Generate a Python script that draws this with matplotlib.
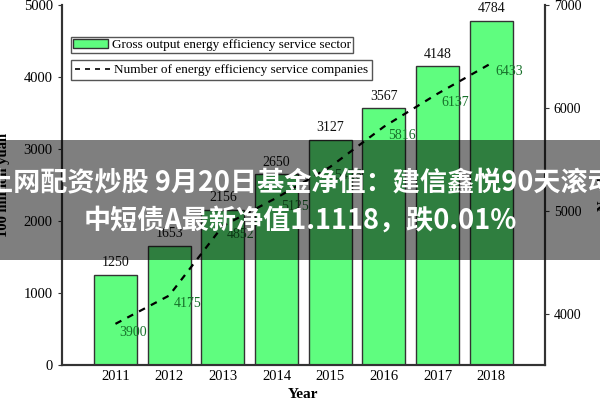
import matplotlib.pyplot as plt
from matplotlib.patches import Rectangle, Patch
from matplotlib.lines import Line2D

plt.rcParams["font.family"] = ["Liberation Serif", "DejaVu Serif"]

# ---- data -----------------------------------------------------------------
years = [2011, 2012, 2013, 2014, 2015, 2016, 2017, 2018]
gross_output = [1250, 1653, 2156, 2650, 3127, 3567, 4148, 4784]      # 100 million yuan
companies = [3900, 4175, 4852, 5125, 5426, 5816, 6137, 6433]         # number

bar_label = "Gross output energy efficiency service sector"
line_label = "Number of energy efficiency service companies"
banner_lines = ["上网配资炒股 9月20日基金净值：建信鑫悦90天滚动",
                "中短债A最新净值1.1118，跌0.01%"]

BAR_GREEN = "#5ffd7f"
EDGE = "#333333"
LABEL_GREEN = "#17702a"

fig = plt.figure(figsize=(6, 4), dpi=100)
ax = fig.add_axes([0.103, 0.0875, 0.805, 0.9])
ax2 = ax.twinx()

ax.bar(years, gross_output, width=0.8, color=BAR_GREEN,
       edgecolor=EDGE, linewidth=1.0, zorder=2)
for x, v in zip(years, gross_output):
    ax.annotate(f"{v}", (x, v), xytext=(0, 4), textcoords="offset points",
                ha="center", va="bottom", fontsize=10, color="#111111")

ax2.plot(years, companies, linestyle=(0, (3, 3)), color="black", lw=1.6,
         zorder=3)
for x, v in zip(years, companies):
    ax2.annotate(f"{v}", (x, v), xytext=(13, -6), textcoords="offset points",
                 ha="center", va="center", fontsize=10, color=LABEL_GREEN)

ax.set_xlim(2010, 2019)
ax.set_ylim(0, 5000)
ax2.set_ylim(3500, 7000)
ax.set_xticks(years)
ax.set_yticks([0, 1000, 2000, 3000, 4000, 5000])
ax2.set_yticks([4000, 5000, 6000, 7000])

for a in (ax, ax2):
    a.spines["top"].set_visible(False)
    for s in ("left", "right", "bottom"):
        a.spines[s].set_color(EDGE)
        a.spines[s].set_linewidth(1.5)
ax.tick_params(axis="y", direction="out", length=3, labelsize=10.5, color=EDGE)
ax.tick_params(axis="x", direction="in", length=3, labelsize=10.5, color=EDGE)
ax2.tick_params(axis="y", direction="out", length=3, labelsize=10, color=EDGE)

ax.set_xlabel("Year", fontsize=11, fontweight="bold", labelpad=4)
ax.set_ylabel("100 million yuan", fontsize=10.5, fontweight="bold", labelpad=10)
ax2.set_ylabel("Number", fontsize=10.5, fontweight="bold", labelpad=12)

# two separate framed legend entries, stacked
leg1 = ax.legend([Patch(facecolor=BAR_GREEN, edgecolor=EDGE)], [bar_label],
                 loc="upper left", bbox_to_anchor=(0.02, 0.911), fontsize=9.5,
                 fancybox=False, edgecolor="#555555", framealpha=1,
                 borderpad=0.15, handlelength=2.6, handletextpad=0.3,
                 borderaxespad=0)
ax.add_artist(leg1)
ax.legend([Line2D([0], [0], color="black", ls=(0, (3, 3)), lw=1.2)],
          [line_label], loc="upper left", bbox_to_anchor=(0.02, 0.847),
          fontsize=9.5, fancybox=False, edgecolor="#555555", framealpha=1,
          borderpad=0.3, handlelength=2.6, handletextpad=0.3,
          borderaxespad=0)

# overlay banner
fig.patches.append(Rectangle((0, 0.35), 1, 0.3, transform=fig.transFigure,
                             facecolor="black", alpha=0.5, zorder=10))
fig.text(0.5, 0.5425, banner_lines[0], ha="center", va="center",
         fontsize=19.5, fontweight="bold", color="white", zorder=11,
         family=["Noto Sans CJK SC", "DejaVu Sans"])
fig.text(0.5, 0.4475, banner_lines[1], ha="center", va="center",
         fontsize=19.5, fontweight="bold", color="white", zorder=11,
         family=["Noto Sans CJK SC", "DejaVu Sans"])

fig.savefig("out.png", dpi=100)
